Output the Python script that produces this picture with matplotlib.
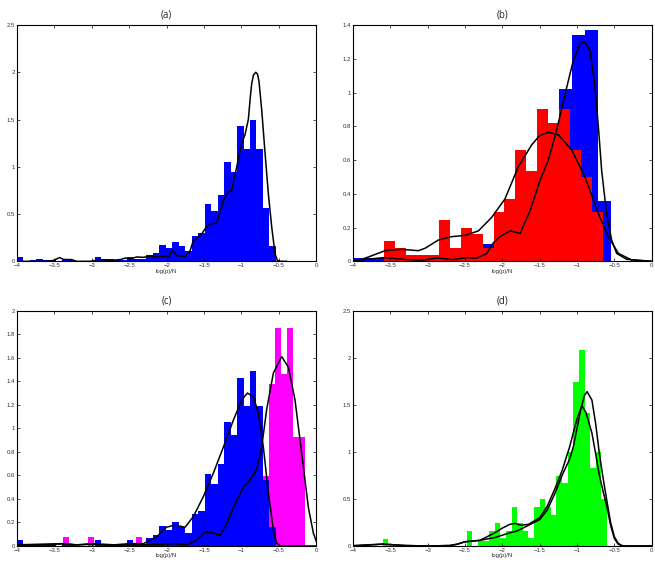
import matplotlib
matplotlib.use('Agg')
import matplotlib.pyplot as plt
import numpy as np
from matplotlib.ticker import FuncFormatter, MultipleLocator

# %% data
# (a) / (c) blue histogram: 40 equal bins from -4
a_blue_start = -4.0
a_blue_width = 0.0865
a_blue_dens = [0.05, 0, 0.015, 0.02, 0.015, 0.015, 0, 0.015, 0.015, 0,
               0, 0, 0.05, 0.02, 0.02, 0.015, 0.015, 0.05, 0.02, 0.02,
               0.07, 0.09, 0.17, 0.14, 0.20, 0.16, 0.11, 0.27, 0.30, 0.61,
               0.53, 0.70, 1.05, 0.94, 1.43, 1.19, 1.49, 1.19, 0.56, 0.16]

a_curve_x = [-4.0, -3.6, -3.51, -3.43, -3.38, -3.27, -3.2, -3.02, -2.89, -2.75,
             -2.62, -2.55, -2.49, -2.40, -2.31, -2.22, -2.13, -2.04, -1.97, -1.928,
             -1.865, -1.754, -1.687, -1.643, -1.598, -1.531, -1.464, -1.420, -1.331, -1.242,
             -1.175, -1.130, -1.063, -0.997, -0.952, -0.908, -0.88, -0.863, -0.84, -0.809,
             -0.785, -0.765, -0.729, -0.684, -0.640, -0.595, -0.551, -0.520, -0.48, -0.4]
a_curve_y = [0, 0, 0.01, 0.04, 0.02, 0.018, 0, 0, 0.018, 0.01,
             0.018, 0.035, 0.025, 0.046, 0.042, 0.056, 0.046, 0.053, 0.05, 0.12,
             0.06, 0.05, 0.11, 0.22, 0.24, 0.29, 0.37, 0.39, 0.41, 0.64,
             0.74, 0.75, 1.00, 1.25, 1.34, 1.5, 1.75, 1.88, 1.97, 2.0,
             1.98, 1.9, 1.6, 1.14, 0.71, 0.36, 0.08, 0.01, 0, 0]

# (b)
b_blue_start = -4.0
b_blue_width = 0.17255
b_blue_dens = [0.02, 0.02, 0.02, 0.01, 0.01, 0.02, 0.02, 0.02, 0.03, 0.05,
               0.1, 0.18, 0.18, 0.25, 0.45, 0.65, 1.02, 1.34, 1.37, 0.36]
b_red_start = -3.59
b_red_width = 0.1472
b_red_dens = [0.12, 0.08, 0.04, 0.04, 0.04, 0.245, 0.08, 0.20, 0.16, 0.08,
              0.29, 0.37, 0.66, 0.536, 0.90, 0.82, 0.90, 0.66, 0.50, 0.29]

b_wide_x = [-4.0, -3.839, -3.571, -3.348, -3.125, -3.036, -2.857, -2.679, -2.5, -2.321,
            -2.143, -1.964, -1.786, -1.607, -1.5, -1.384, -1.25, -1.071, -0.893, -0.714,
            -0.58, -0.446, -0.268, 0.0]
b_wide_y = [0.0, 0.018, 0.063, 0.071, 0.063, 0.077, 0.126, 0.146, 0.154, 0.18,
            0.26, 0.37, 0.56, 0.69, 0.745, 0.764, 0.75, 0.66, 0.50, 0.284,
            0.146, 0.047, 0.008, 0.0]
b_narrow_x = [-4.0, -3.59, -3.28, -3.06, -2.88, -2.66, -2.48, -2.35, -2.21, -2.119,
              -2.03, -1.896, -1.762, -1.628, -1.494, -1.383, -1.271, -1.138, -1.049, -0.959,
              -0.901, -0.826, -0.759, -0.714, -0.670, -0.603, -0.536, -0.469, -0.335, 0.0]
b_narrow_y = [0.003, 0.022, 0.01, 0.006, 0.02, 0.01, 0.022, 0.018, 0.046, 0.11,
              0.146, 0.181, 0.165, 0.30, 0.48, 0.60, 0.78, 1.03, 1.19, 1.29,
              1.30, 1.25, 1.03, 0.80, 0.54, 0.28, 0.126, 0.047, 0.012, 0.0]

# (c) magenta histogram: 40 equal bins from -3.38
c_mag_start = -3.38
c_mag_width = 0.0809
c_mag_dens = [0.08, 0, 0, 0, 0.08, 0, 0, 0, 0, 0,
              0, 0, 0.08, 0, 0, 0, 0, 0, 0, 0,
              0, 0, 0, 0, 0, 0, 0, 0, 0, 0,
              0, 0, 0, 0.595, 1.38, 1.85, 1.46, 1.85, 0.93, 0.93]

c_left_x = [-4.0, -3.7, -3.4, -3.2, -3.0, -2.7, -2.5, -2.31, -2.13, -2.0,
            -1.888, -1.754, -1.643, -1.509, -1.375, -1.242, -1.108, -0.997, -0.921, -0.841,
            -0.774, -0.707, -0.640, -0.573, -0.529, -0.48, 0.0]
c_left_y = [0.01, 0.015, 0.02, 0.01, 0.02, 0.01, 0.02, 0.02, 0.08, 0.16,
            0.178, 0.159, 0.25, 0.42, 0.62, 0.84, 1.07, 1.24, 1.30, 1.27,
            1.13, 0.84, 0.45, 0.136, 0.023, 0.0, 0.0]
c_right_x = [-4.0, -3.6, -3.36, -3.2, -3.02, -2.8, -2.5, -2.2, -2.0, -1.91,
             -1.73, -1.60, -1.487, -1.375, -1.286, -1.197, -1.086, -0.975, -0.886, -0.797,
             -0.730, -0.663, -0.573, -0.462, -0.373, -0.284, -0.195, -0.106, -0.039, 0.0]
c_right_y = [0.005, 0.01, 0.02, 0.008, 0.015, 0.008, 0.01, 0.01, 0.017, 0.02,
             0.01, 0.05, 0.12, 0.11, 0.09, 0.19, 0.36, 0.50, 0.56, 0.65,
             0.84, 1.16, 1.47, 1.61, 1.52, 1.24, 0.79, 0.33, 0.11, 0.04]

# (d) green histogram: 40 equal bins from -3.603
d_green_start = -3.603
d_green_width = 0.0751
d_green_dens = [0.074, 0, 0, 0, 0, 0, 0, 0, 0, 0,
                0, 0, 0, 0, 0, 0.163, 0, 0.053, 0.053, 0.163,
                0.248, 0.08, 0.163, 0.418, 0.248, 0.163, 0.08, 0.418, 0.50, 0.418,
                0.33, 0.747, 0.666, 1.0, 1.746, 2.08, 1.41, 0.83, 1.0, 0.5]

d_one_x = [-4.0, -3.6, -3.3, -3.0, -2.7, -2.6, -2.5, -2.3, -2.1, -1.9,
           -1.8, -1.7, -1.6, -1.5, -1.4, -1.3, -1.2, -1.1, -1.05, -1.0,
           -0.95, -0.9, -0.865, -0.8, -0.75, -0.7, -0.65, -0.6, -0.55, -0.5,
           -0.45, -0.4, -0.35, 0.0]
d_one_y = [0.0, 0.02, 0.005, 0.0, 0.005, 0.02, 0.045, 0.06, 0.09, 0.14,
           0.16, 0.2, 0.24, 0.28, 0.38, 0.55, 0.75, 0.92, 1.05, 1.25,
           1.45, 1.6, 1.64, 1.55, 1.3, 0.98, 0.72, 0.48, 0.25, 0.1,
           0.03, 0.005, 0.0, 0.0]
d_two_x = [-4.0, -3.6, -3.3, -3.0, -2.7, -2.6, -2.5, -2.3, -2.1, -2.0,
           -1.9, -1.83, -1.75, -1.65, -1.5, -1.4, -1.3, -1.2, -1.1, -1.0,
           -0.935, -0.88, -0.8, -0.75, -0.7, -0.65, -0.6, -0.55, -0.5, -0.45,
           -0.4, -0.35, 0.0]
d_two_y = [0.005, 0.02, 0.005, 0.0, 0.005, 0.02, 0.045, 0.06, 0.14, 0.19,
           0.23, 0.24, 0.22, 0.23, 0.3, 0.42, 0.6, 0.8, 1.05, 1.35,
           1.49, 1.42, 1.2, 0.98, 0.75, 0.58, 0.42, 0.22, 0.08, 0.02,
           0.003, 0.0, 0.0]

# %% helpers
def draw_hist(ax, start, width, dens, colour):
    left = start + width * np.arange(len(dens))
    ax.bar(left, dens, width=width, align='edge', color=colour, linewidth=0)

def style(ax, title, ymax, ystep):
    ax.set_xlim(-4, 0)
    ax.set_ylim(0, ymax)
    ax.xaxis.set_major_locator(MultipleLocator(0.5))
    ax.yaxis.set_major_locator(MultipleLocator(ystep))
    fmt = FuncFormatter(lambda v, p: ('%g' % round(v, 3)).replace('-', '\u2212'))
    ax.xaxis.set_major_formatter(fmt)
    ax.yaxis.set_major_formatter(fmt)
    ax.tick_params(direction='in', length=2, width=0.5, labelsize=4.3, pad=1.5,
                   top=True, right=True, colors='black', labelcolor='#333333')
    for s in ax.spines.values():
        s.set_linewidth(0.8)
    ax.set_xlabel('log(p)/N', fontsize=4.3, labelpad=0.3, color='#333333')
    ax.set_title(title, fontsize=7, pad=5.5, family='Open Sans', color='#222222')

plt.rcParams['font.family'] = ['Liberation Sans', 'DejaVu Sans']

fig = plt.figure(figsize=(6.55, 5.66), dpi=100)
ax_a = fig.add_axes([0.02595, 0.5383, 0.4569, 0.4175])
ax_b = fig.add_axes([0.5389, 0.5383, 0.4560, 0.4175])
ax_c = fig.add_axes([0.02595, 0.03534, 0.4569, 0.4157])
ax_d = fig.add_axes([0.5389, 0.03534, 0.4560, 0.4157])

lw = 1.1

# (a)
draw_hist(ax_a, a_blue_start, a_blue_width, a_blue_dens, (0, 0, 1))
ax_a.plot(a_curve_x, a_curve_y, color='black', lw=lw)
style(ax_a, '(a)', 2.5, 0.5)

# (b)
draw_hist(ax_b, b_blue_start, b_blue_width, b_blue_dens, (0, 0, 1))
draw_hist(ax_b, b_red_start, b_red_width, b_red_dens, (1, 0, 0))
ax_b.plot(b_wide_x, b_wide_y, color='black', lw=lw)
ax_b.plot(b_narrow_x, b_narrow_y, color='black', lw=lw)
style(ax_b, '(b)', 1.4, 0.2)

# (c)
draw_hist(ax_c, c_mag_start, c_mag_width, c_mag_dens, (1, 0, 1))
draw_hist(ax_c, a_blue_start, a_blue_width, a_blue_dens, (0, 0, 1))
ax_c.plot(c_left_x, c_left_y, color='black', lw=lw)
ax_c.plot(c_right_x, c_right_y, color='black', lw=lw)
style(ax_c, '(c)', 2.0, 0.2)

# (d)
draw_hist(ax_d, d_green_start, d_green_width, d_green_dens, (0, 1, 0))
ax_d.plot(d_one_x, d_one_y, color='black', lw=lw)
ax_d.plot(d_two_x, d_two_y, color='black', lw=lw)
style(ax_d, '(d)', 2.5, 0.5)

fig.savefig('out.png', dpi=100)
